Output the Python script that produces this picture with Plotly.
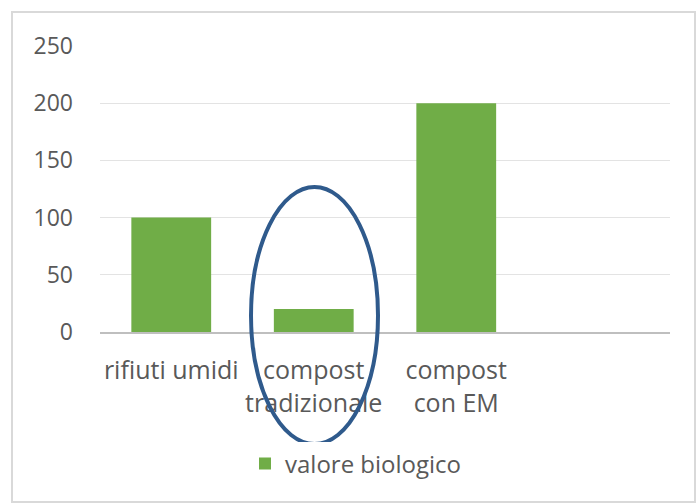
import plotly.graph_objects as go

categories = ["rifiuti umidi", "compost<br>tradizionale", "compost<br>con EM", " "]
values = [100, 20, 200, None]
series_name = "valore biologico"
y_ticks = [0, 50, 100, 150, 200, 250]

W, H = 698, 504
L, R, T, B = 100, 28, 46, 172
pw, ph = W - L - R, H - T - B

def px(x):
    return (x - L) / pw

def py(y):
    return (H - B - y) / ph

fig = go.Figure()
fig.add_trace(go.Bar(x=categories, y=values, name=series_name,
                     marker=dict(color="#70AD47", line=dict(width=0)),
                     showlegend=True))

fig.update_layout(
    width=W, height=H,
    margin=dict(l=L, r=R, t=T, b=B),
    paper_bgcolor="white", plot_bgcolor="white",
    bargap=0.44,
    font=dict(family="Open Sans", color="#595959", size=22),
    showlegend=True,
    legend=dict(orientation="h", x=px(356), y=py(464), xanchor="center", yanchor="middle",
                font=dict(size=24, color="#595959"), itemwidth=30),
    xaxis=dict(showgrid=False, showline=True, linecolor="#BFBFBF", linewidth=2,
               ticks="", tickfont=dict(size=25), ticklabelstandoff=15),
    yaxis=dict(range=[0, 250], tickvals=y_ticks, showgrid=True, gridcolor="#E3E3E3",
               gridwidth=1, zeroline=False, showline=False, ticks="",
               tickfont=dict(size=23), ticklabelstandoff=26),
)

# chart frame
fig.add_shape(type="rect", xref="paper", yref="paper",
              x0=px(12), x1=px(695), y0=py(502), y1=py(12),
              line=dict(color="#D9D9D9", width=2), layer="below")
# hand-drawn ellipse
fig.add_shape(type="circle", xref="paper", yref="paper",
              x0=px(251), x1=px(378), y0=py(444), y1=py(187),
              line=dict(color="#2F5A8C", width=4), layer="above")

fig.write_html("out.html", config={"displayModeBar": False},
               post_script="document.body.style.margin='0';document.body.style.overflow='hidden';")
